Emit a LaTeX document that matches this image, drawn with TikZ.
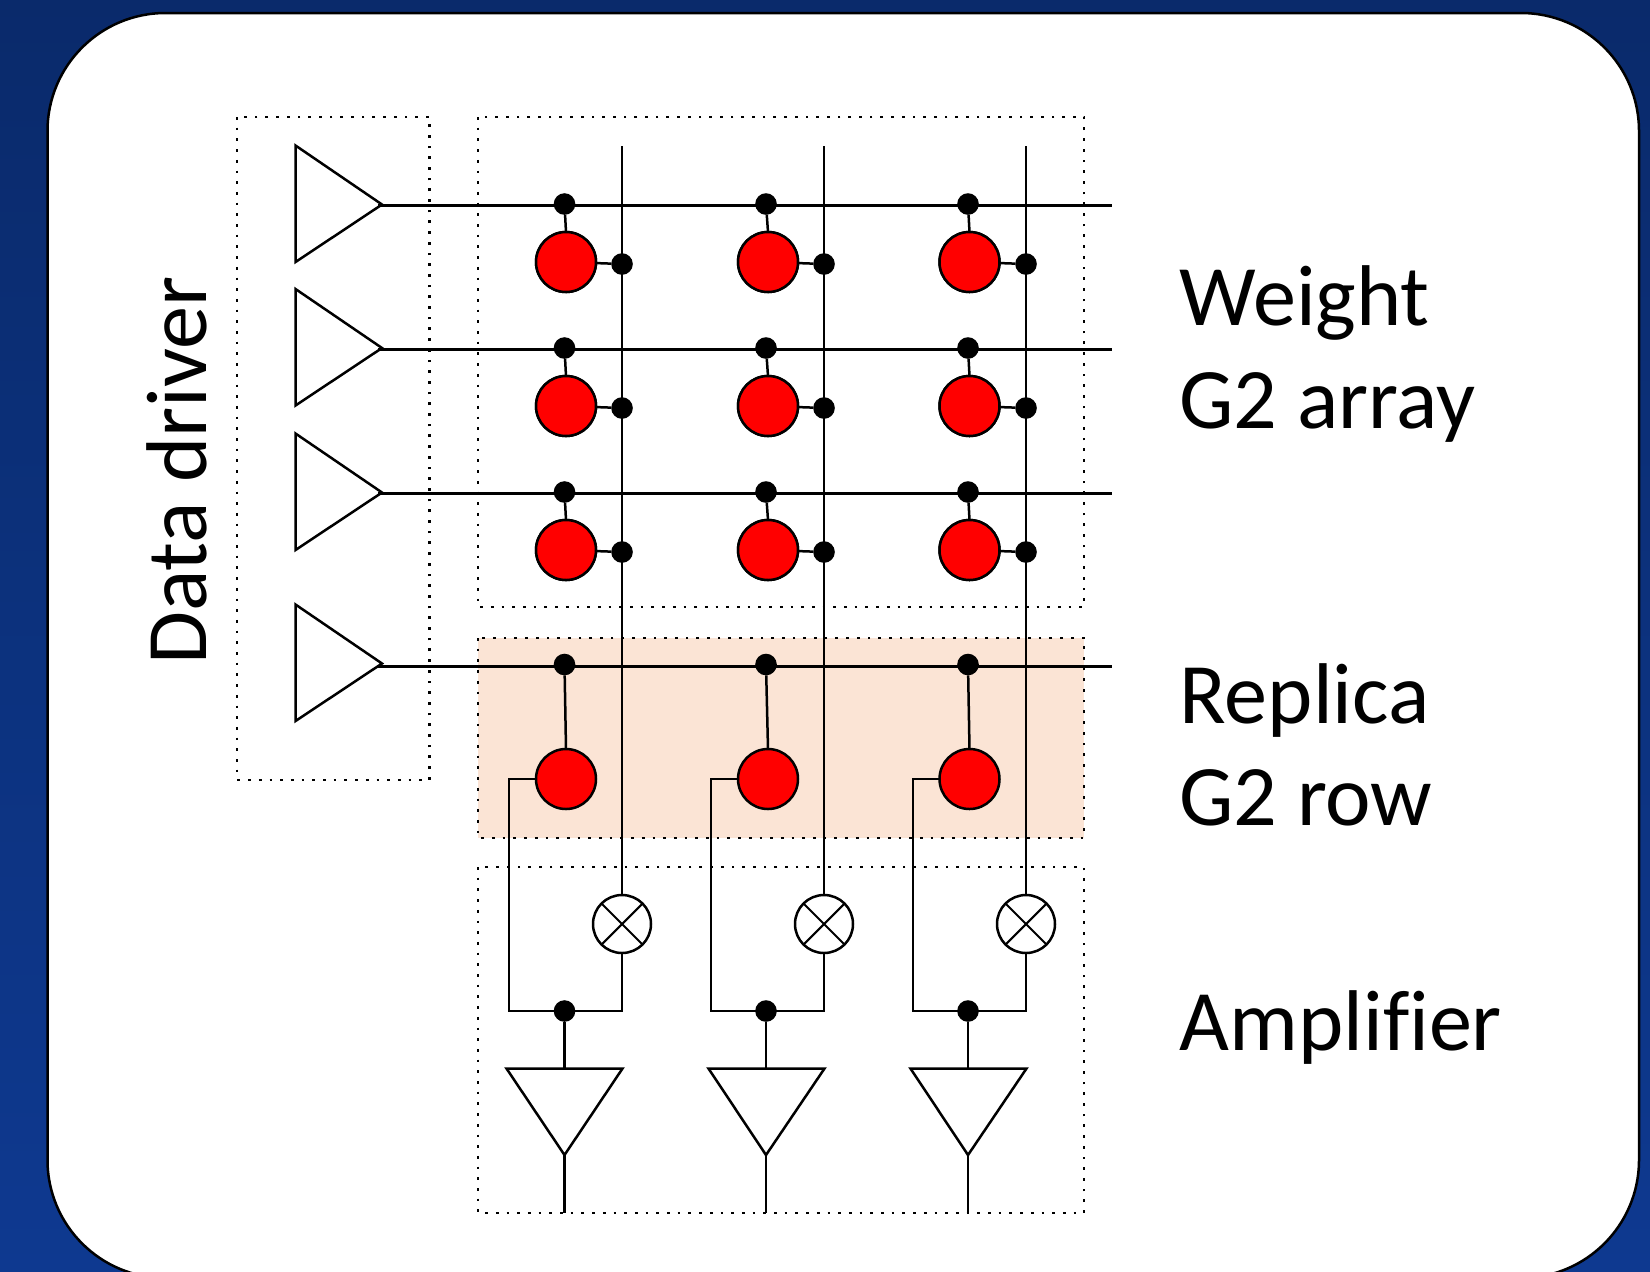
\documentclass[tikz,border=0pt]{standalone}
\usepackage{fontspec}
\setmainfont[Ligatures=NoCommon]{Carlito}
\definecolor{bgtop}{HTML}{0A2A6B}
\definecolor{bgbot}{HTML}{0E3990}
\definecolor{replicafill}{HTML}{FBE4D5}
\definecolor{gred}{HTML}{FF0000}
\begin{document}
\begin{tikzpicture}[x=0.5pt,y=-0.5pt,line width=1.25pt,
  wire/.style={draw=black,line width=1.25pt},
  dotbox/.style={draw=black,line width=1.35pt,dash pattern=on 1.35pt off 4pt},
  jdot/.style={circle,fill=black,draw=none,inner sep=0pt,outer sep=0pt,minimum size=10.8pt},
  g2cell/.style={circle,fill=gred,draw=black,line width=1.25pt,inner sep=0pt,outer sep=0pt,minimum size=30pt},
  mixer/.style={circle,fill=white,draw=black,line width=1.25pt,inner sep=0pt,outer sep=0pt,minimum size=29pt},
  amp/.style={draw=black,fill=white,line width=1.25pt,line join=miter},
  lbl/.style={font=\fontsize{43.1}{50}\selectfont,anchor=base west,inner sep=0pt,outer sep=0pt}]
\useasboundingbox (0,0) rectangle (1650,1271);
\shade[top color=bgtop,bottom color=bgbot] (0,0) rectangle (1650,1271);
\path[clip] (0,0) rectangle (1650,1271);
\draw[fill=white,line width=1.25pt,rounded corners=59pt] (47.5,13) rectangle (1639,1278);

% region boxes
\fill[replicafill] (478,638) rectangle (1084,838);
\draw[dotbox] (237,117) rectangle (429.5,780);
\draw[dotbox] (478,117) rectangle (1084,607);
\draw[dotbox] (478,638) rectangle (1084,838);
\draw[dotbox] (478,867) rectangle (1084,1213);

% row lines and drivers
\foreach \r/\wy/\ty in {1/205.5/204.5,2/349.5/348,3/493.5/492.5,4/666.5/663.5}{
  \coordinate (rowS\r) at (378,\wy);
  \coordinate (rowE\r) at (1112,\wy);
  \draw[wire] (rowS\r) -- (rowE\r);
  \coordinate (drvT\r) at (295.5,\ty-59);
  \coordinate (drvB\r) at (295.5,\ty+57.5);
  \coordinate (drvO\r) at (382,\ty);
  \draw[line width=1.25pt] (drvT\r) -- (drvO\r) -- (drvB\r) -- cycle;
}

% columns
\foreach \c/\dx/\cx/\vx in {1/564.5/566/622,2/766/768/824,3/968/969.5/1026}{
  \coordinate (colT\c) at (\vx,146);
  \node[mixer] (mix\c) at (\vx,924) {};
  \draw[wire] (colT\c) -- (mix\c.north);
  \draw[line width=1.05pt] (mix\c.45) -- (mix\c.225) (mix\c.135) -- (mix\c.315);
  % weight cells
  \foreach \r/\gy/\jy/\sy in {1/262/204/264,2/406/348/408,3/550/492/552}{
    \node[g2cell] (g\r\c) at (\cx,\gy) {};
    \node[jdot] (j\r\c) at (\dx,\jy) {};
    \node[jdot] (s\r\c) at (\vx,\sy) {};
    \draw[wire] (j\r\c) -- (g\r\c.north);
    \draw[wire] (g\r\c) -- (s\r\c);
    \node[g2cell] at (g\r\c) {};
  }
  % replica cell
  \node[g2cell] (g4\c) at (\cx,779) {};
  \node[jdot] (j4\c) at (\dx,664.5) {};
  \draw[wire] (j4\c) -- (g4\c.north);
  % amplifier
  \node[jdot] (sum\c) at (\dx,1011) {};
  \coordinate (retL\c) at (\vx-113,1011);
  \coordinate (retR\c) at (\vx,1011);
  \draw[wire] (g4\c.west) -| (retL\c) -- (retR\c) -- (mix\c.south);
  \coordinate (ampL\c) at (\vx-115.5,1068.5);
  \coordinate (ampR\c) at (\vx+0.5,1068.5);
  \coordinate (ampO\c) at (\dx,1155);
  \coordinate (ampI\c) at (\dx,1068.5);
  \coordinate (out\c) at (\dx,1213);
  \draw[wire] (sum\c) -- (ampI\c);
  \draw[amp] (ampL\c) -- (ampR\c) -- (ampO\c) -- cycle;
  \draw[wire] (ampO\c) -- (out\c);
}

% labels
\node[lbl] (t1) at (1179.5,325.5) {Weight};
\node[lbl] (t2) at (1179.5,428) {G2 array};
\node[lbl] (t3) at (1179.5,723.5) {Replica};
\node[lbl] (t4) at (1179.5,825.5) {G2 row};
\node[lbl] (t5) at (1179.5,1050) {Amplifier};
\node[font=\fontsize{43.1}{50}\selectfont,rotate=90,anchor=base,inner sep=0pt] (t6) at (206,470.5) {Data driver};
\end{tikzpicture}
\end{document}
